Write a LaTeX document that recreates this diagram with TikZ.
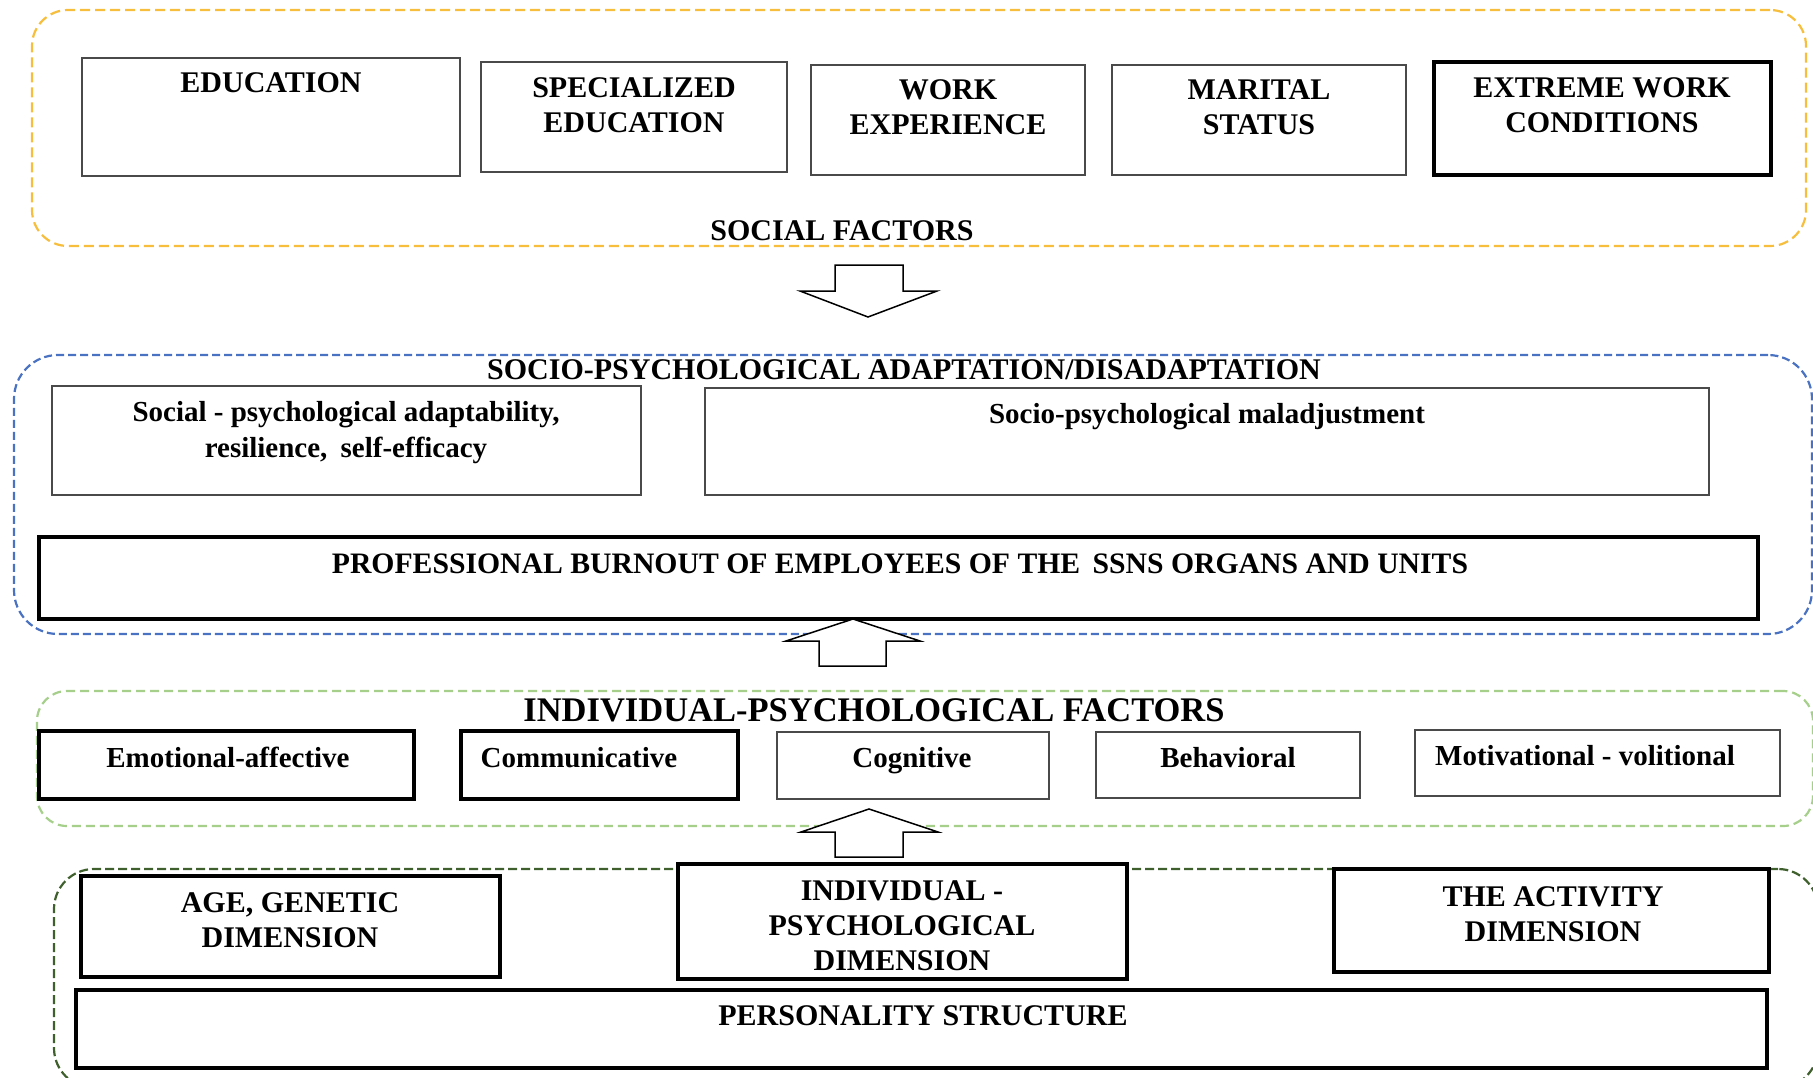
\documentclass[tikz,border=0pt]{standalone}
\usepackage{fontspec}
\setmainfont{Liberation Serif}
\definecolor{framegold}{HTML}{F6BE3C}
\definecolor{frameblue}{HTML}{4A72C2}
\definecolor{framelime}{HTML}{A6CF8B}
\definecolor{frameforest}{HTML}{3F5F2C}
\definecolor{boxgray}{HTML}{4A4A4A}
% \mkbox[style]{name}{x1}{y1}{x2}{y2}: rectangle node given by its corners
\newcommand\mkbox[6][]{%
  \node[#1, minimum width={(#5)-(#3)}, minimum height={(#6)-(#4)}]
    (#2) at ({((#3)+(#5))/2},{((#4)+(#6))/2}) {};}
\begin{document}
\begin{tikzpicture}[x=1pt,y=-1pt,
  every node/.style={inner sep=0pt, outer sep=0pt},
  framebase/.style={rectangle, line width=2.2pt},
  goldframe/.style={framebase, draw=framegold, dash pattern=on 10pt off 5pt, rounded corners=36pt},
  blueframe/.style={framebase, draw=frameblue, dash pattern=on 8pt off 4pt, rounded corners=44pt},
  limeframe/.style={framebase, draw=framelime, dash pattern=on 9pt off 5pt, rounded corners=30pt},
  forestframe/.style={framebase, draw=frameforest, dash pattern=on 9pt off 4pt, rounded corners=40pt},
  thinbox/.style={rectangle, draw=boxgray, fill=white, line width=1.8pt},
  thickbox/.style={rectangle, draw=black, fill=white, line width=3.2pt},
  captxt/.style={font=\bfseries\fontsize{30}{35}\selectfont, align=center, anchor=north},
  lowtxt/.style={font=\bfseries\fontsize{29}{36}\selectfont, align=center, anchor=north},
  headtxt/.style={font=\bfseries\fontsize{34.5}{40}\selectfont, anchor=north},
  blockarrow/.style={draw=black, fill=white, line width=1.5pt, line join=miter}
]
\useasboundingbox (0,0) rectangle (1813,1077);

% ---------- social factors ----------
\mkbox[goldframe]{social}{32}{10}{1806}{246}
\mkbox[thinbox]{edu}{82}{58}{460}{176}
\mkbox[thinbox]{spec}{481}{62}{787}{172}
\mkbox[thinbox]{work}{811}{65}{1085}{175}
\mkbox[thinbox]{marital}{1112}{65}{1406}{175}
\mkbox[thickbox]{extreme}{1434}{62}{1771}{175}
\node[captxt] (edu-t) at (271,73) {EDUCATION};
\node[captxt] (spec-t) at (634,78) {SPECIALIZED\\EDUCATION};
\node[captxt] (work-t) at (948,80) {WORK\\EXPERIENCE};
\node[captxt] (marital-t) at (1259,80) {MARITAL\\STATUS};
\node[captxt] (extreme-t) at (1602,78) {EXTREME WORK\\CONDITIONS};
\node[captxt] (social-t) at (842,221) {SOCIAL FACTORS};

% ---------- adaptation / disadaptation ----------
\mkbox[blueframe]{adapt}{14}{355}{1812}{634}
\mkbox[thinbox]{adaptab}{52}{386}{641}{495}
\mkbox[thinbox]{malad}{705}{388}{1709}{495}
\mkbox[thickbox]{burnout}{39}{537}{1758}{619}
\node[captxt] (adapt-t) at (904,360) {SOCIO-PSYCHOLOGICAL ADAPTATION/DISADAPTATION};
\node[lowtxt] (adaptab-t) at (346,401) {Social - psychological adaptability,\\resilience,\hspace{6pt} self-efficacy};
\node[lowtxt] (malad-t) at (1207,403) {Socio-psychological maladjustment};
\node[captxt, font=\bfseries\fontsize{29.7}{35}\selectfont] (burnout-t) at (900,554)
  {PROFESSIONAL BURNOUT OF EMPLOYEES OF THE\hspace{5pt} SSNS ORGANS AND UNITS};

% ---------- individual-psychological factors ----------
\mkbox[limeframe]{indiv}{37}{691}{1813}{826}
\mkbox[thickbox]{emo}{39}{731}{414}{799}
\mkbox[thickbox]{comm}{461}{731}{738}{799}
\mkbox[thinbox]{cogn}{777}{732}{1049}{799}
\mkbox[thinbox]{behav}{1096}{732}{1360}{798}
\mkbox[thinbox]{motiv}{1415}{730}{1780}{796}
\node[headtxt] (indiv-t) at (874,699) {INDIVIDUAL-PSYCHOLOGICAL FACTORS};
\node[lowtxt] (emo-t) at (228,747) {Emotional-affective};
\node[lowtxt] (comm-t) at (579,747) {Communicative};
\node[lowtxt] (cogn-t) at (912,747) {Cognitive};
\node[lowtxt] (behav-t) at (1228,747) {Behavioral};
\node[lowtxt] (motiv-t) at (1585,745) {Motivational - volitional};

% ---------- personality structure ----------
\mkbox[forestframe]{person}{54}{869}{1818}{1088}
\mkbox[thickbox]{age}{81}{876}{500}{977}
\mkbox[thickbox]{ipd}{678}{864}{1127}{979}
\mkbox[thickbox]{activity}{1334}{869}{1769}{972}
\mkbox[thickbox]{structure}{76}{990}{1767}{1068}
\node[captxt] (age-t) at (290,893) {AGE, GENETIC\\DIMENSION};
\node[captxt] (ipd-t) at (902,881) {INDIVIDUAL -\\PSYCHOLOGICAL\\DIMENSION};
\node[captxt] (activity-t) at (1553,887) {THE ACTIVITY\\DIMENSION};
\node[captxt] (structure-t) at (923,1006) {PERSONALITY STRUCTURE};

% ---------- block arrows between the levels ----------
\draw[blockarrow] (835,265) -- (903,265) -- (903,291) -- (937,291) -- (868,317)
  -- (800,291) -- (835,291) -- cycle;
\draw[blockarrow] (853,619) -- (920,641) -- (886,641) -- (886,666) -- (819,666)
  -- (819,641) -- (786,641) -- cycle;
\draw[blockarrow] (869,809) -- (938,832) -- (903,832) -- (903,857) -- (835,857)
  -- (835,832) -- (801,832) -- cycle;
\end{tikzpicture}
\end{document}
